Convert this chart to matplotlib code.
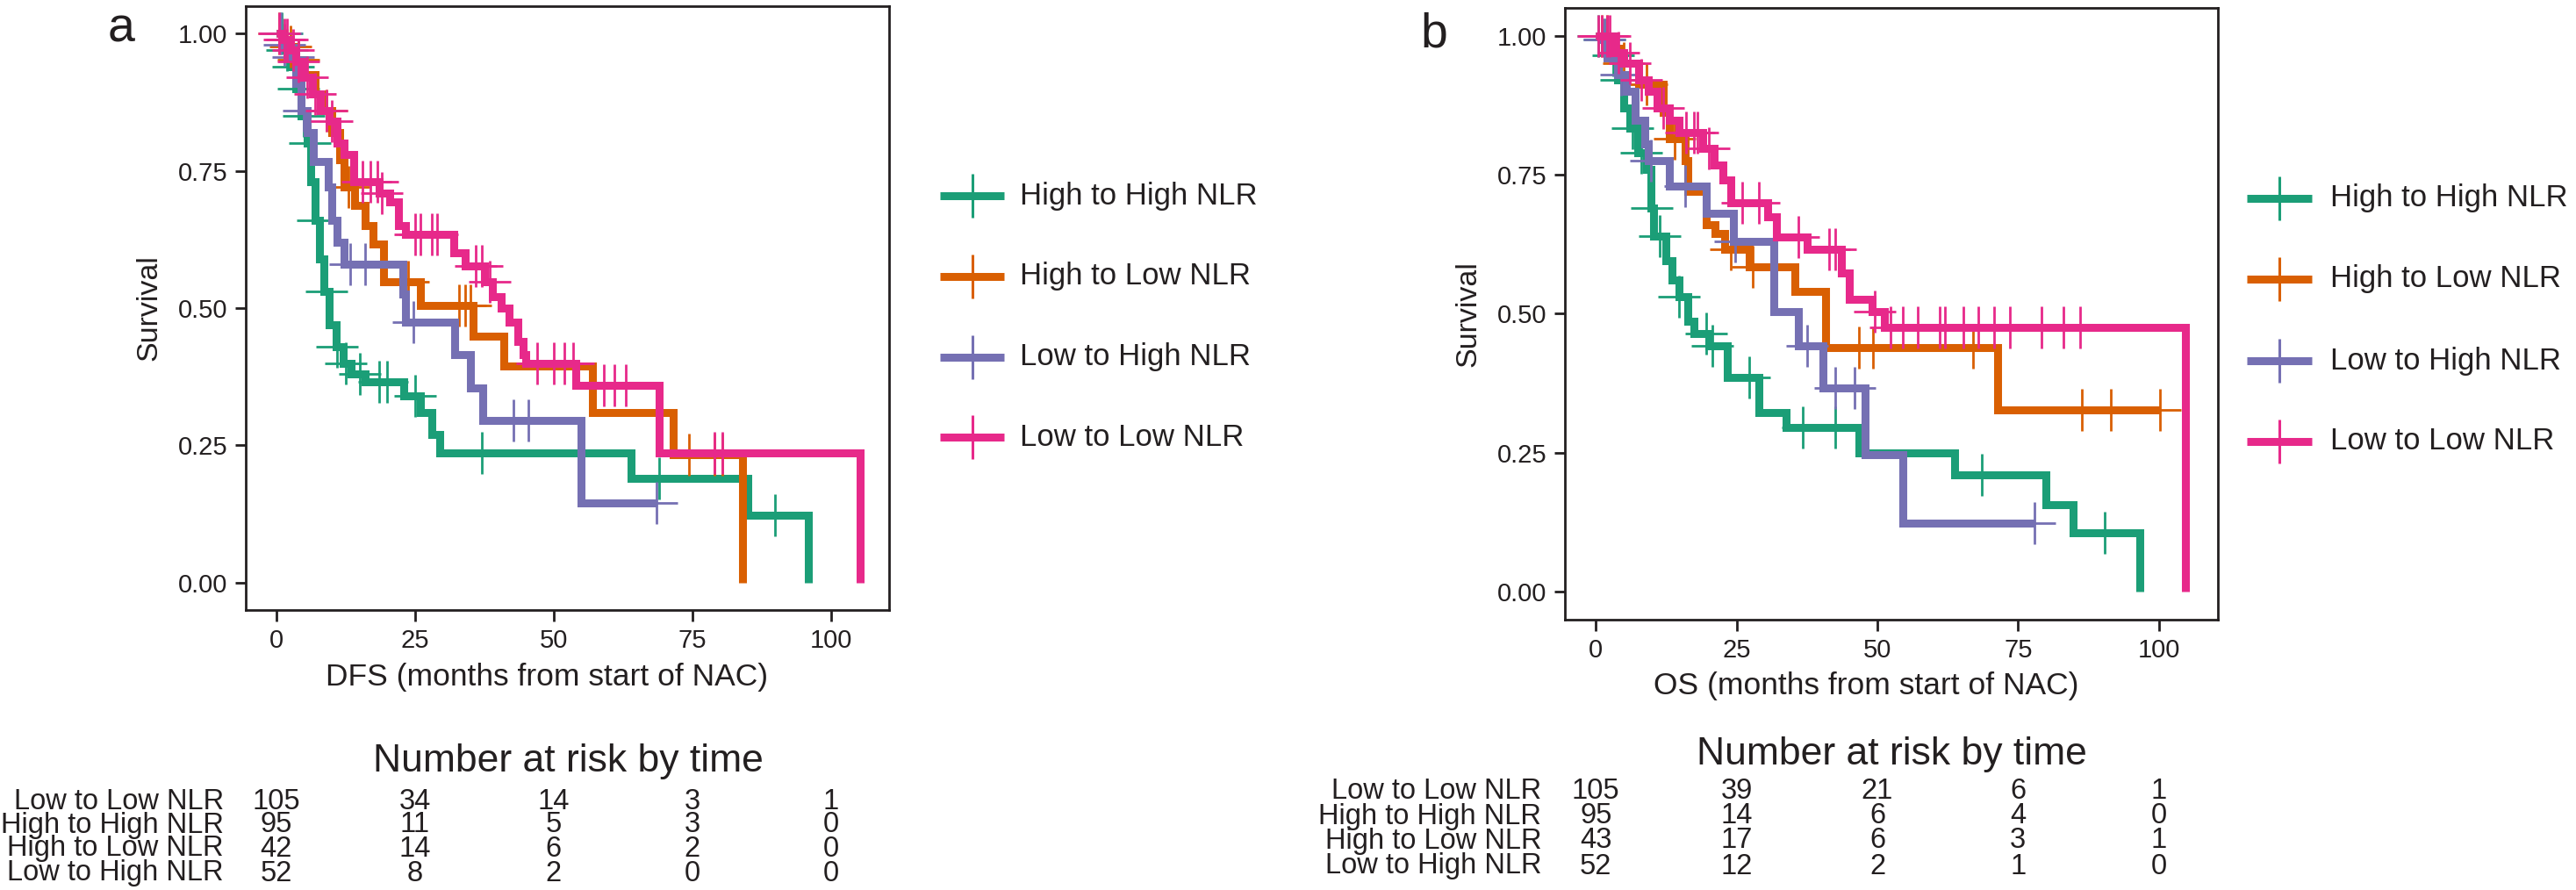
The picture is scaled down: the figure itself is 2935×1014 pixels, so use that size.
import matplotlib
matplotlib.use("Agg")
import matplotlib.pyplot as plt
from matplotlib.lines import Line2D
from matplotlib.transforms import blended_transform_factory
import numpy as np

plt.rcParams['font.family'] = ['Liberation Sans', 'DejaVu Sans']

W, H = 2935, 1014
groups = ["High to High NLR", "High to Low NLR", "Low to High NLR", "Low to Low NLR"]
colors = ["#1B9E77", "#D95F02", "#7570B3", "#E7298A"]
ink = "#231f20"

# ---- panel a (DFS): step times / survival after step, censor times ----
a_t = [
    [0, 1.5, 2.5, 3.5, 4.5, 5.5, 6.2, 7.0, 7.8, 8.6, 9.6, 10.8, 12.0, 13.5, 16.0, 23.0, 26.0, 28.0, 29.4, 64.0, 85.0, 96.0],
    [0, 1.5, 3.0, 5.0, 7.0, 8.5, 10.0, 11.5, 12.2, 14.2, 16.0, 17.4, 19.4, 26.0, 35.5, 41.0, 57.0, 71.6, 84.0],
    [0, 1.0, 2.0, 3.5, 4.5, 5.5, 6.7, 9.4, 10.0, 11.0, 12.2, 22.8, 23.3, 32.2, 35.0, 37.2, 55.0, 68.5],
    [0, 1.0, 2.5, 3.5, 5.0, 6.5, 8.0, 9.5, 11.0, 12.2, 14.0, 18.5, 20.5, 22.0, 23.3, 32.0, 34.0, 37.5, 39.0,
     40.5, 42.0, 43.5, 44.5, 45.0, 54.0, 69.0, 105.3],
]
a_s = [
    [1.0, 0.97, 0.94, 0.90, 0.85, 0.80, 0.73, 0.66, 0.59, 0.53, 0.47, 0.43, 0.40, 0.38, 0.365, 0.34, 0.31, 0.27, 0.236, 0.19, 0.123, 0.0],
    [1.0, 0.976, 0.952, 0.925, 0.89, 0.86, 0.82, 0.77, 0.72, 0.687, 0.65, 0.617, 0.548, 0.504, 0.449, 0.394, 0.31, 0.233, 0.0],
    [1.0, 0.98, 0.957, 0.91, 0.86, 0.82, 0.767, 0.72, 0.66, 0.62, 0.58, 0.525, 0.474, 0.416, 0.354, 0.295, 0.145, 0.145],
    [1.0, 0.99, 0.97, 0.95, 0.92, 0.89, 0.86, 0.84, 0.80, 0.78, 0.73, 0.71, 0.694, 0.65, 0.635, 0.60, 0.577, 0.548, 0.52,
     0.50, 0.474, 0.44, 0.416, 0.40, 0.36, 0.236, 0.0],
]
a_c = [
    [1.0, 2.0, 3.0, 4.0, 5.0, 6.0, 7.5, 9.0, 11.0, 12.5, 15.0, 18.5, 20.0, 25.0, 37.0, 69.0, 90.0],
    [0.5, 2.5, 4.0, 9.0, 13.0, 23.7, 33.0, 34.0, 35.0, 74.4, 79.0, 80.5],
    [0.8, 1.5, 3.0, 5.0, 13.3, 16.0, 24.8, 42.8, 45.5, 68.5],
    [0.5, 1.5, 2.0, 3.0, 4.0, 5.5, 7.0, 9.0, 10.0, 15.5, 17.0, 18.3, 19.0, 25.0, 26.0, 28.0, 29.0, 36.0, 37.0,
     38.5, 47.0, 50.0, 52.0, 53.5, 59.0, 61.0, 63.0, 79.0, 80.5],
]

# ---- panel b (OS) ----
b_t = [
    [0, 1.0, 2.0, 3.8, 5.0, 6.0, 7.5, 9.0, 9.8, 10.3, 12.5, 13.5, 14.7, 16.3, 17.4, 20.0, 23.4, 28.9, 33.8, 46.8,
     63.7, 80.0, 84.7, 96.7],
    [0, 3.0, 4.2, 7.6, 11.9, 13.1, 15.8, 16.3, 19.6, 21.2, 22.9, 27.2, 35.4, 40.8, 71.4, 100.2],
    [0, 1.0, 2.0, 3.8, 5.4, 7.0, 8.7, 9.3, 13.0, 19.6, 24.5, 31.6, 36.0, 40.3, 47.9, 54.5, 77.9],
    [0, 3.3, 5.0, 7.6, 9.3, 10.9, 13.1, 14.7, 19.0, 21.0, 22.5, 24.0, 30.5, 32.0, 37.6, 43.6, 45.0, 49.0, 51.2, 104.8],
]
b_s = [
    [1.0, 0.993, 0.964, 0.92, 0.87, 0.834, 0.79, 0.76, 0.69, 0.64, 0.595, 0.56, 0.53, 0.486, 0.465, 0.443, 0.385,
     0.323, 0.295, 0.25, 0.211, 0.157, 0.106, 0.0],
    [1.0, 0.977, 0.95, 0.913, 0.862, 0.815, 0.776, 0.72, 0.66, 0.645, 0.616, 0.584, 0.54, 0.44, 0.327, 0.327],
    [1.0, 0.993, 0.96, 0.93, 0.90, 0.848, 0.805, 0.776, 0.73, 0.68, 0.63, 0.504, 0.443, 0.367, 0.247, 0.124, 0.124],
    [1.0, 0.97, 0.95, 0.92, 0.90, 0.87, 0.848, 0.826, 0.797, 0.768, 0.74, 0.70, 0.674, 0.638, 0.616, 0.573, 0.526,
     0.504, 0.475, 0.0],
]
b_c = [
    [0.5, 1.5, 3.0, 4.5, 6.5, 8.0, 10.0, 11.4, 14.7, 19.6, 20.7, 27.2, 36.8, 42.5, 68.6, 90.4],
    [1.0, 2.0, 5.0, 9.0, 14.0, 24.0, 27.8, 46.8, 49.2, 67.0, 86.3, 91.5, 100.2],
    [1.5, 4.5, 9.8, 15.8, 24.7, 37.6, 42.5, 46.0, 77.9],
    [0.5, 1.0, 2.0, 2.5, 4.0, 6.0, 8.0, 12.0, 16.0, 17.4, 18.0, 20.0, 26.0, 28.9, 36.0, 41.4, 42.5, 49.6, 52.3,
     54.5, 57.2, 61.0, 62.0, 65.3, 68.0, 70.8, 73.5, 79.2, 83.1, 86.0],
]

# ---- number at risk tables ----
risk_rows = ["Low to Low NLR", "High to High NLR", "High to Low NLR", "Low to High NLR"]
risk_times = [0, 25, 50, 75, 100]
a_risk = [[105, 34, 14, 3, 1], [95, 11, 5, 3, 0], [42, 14, 6, 2, 0], [52, 8, 2, 0, 0]]
b_risk = [[105, 39, 21, 6, 1], [95, 14, 6, 4, 0], [43, 17, 6, 3, 1], [52, 12, 2, 1, 0]]


def fx(px):
    return px / W


def fy(py):
    return 1 - py / H


def km_panel(ax, times, survs, cens, xlabel):
    for t, s, c, col in zip(times, survs, cens, colors):
        t = np.array(t)
        s = np.array(s)
        ax.plot(t, s, drawstyle='steps-post', color=col, lw=6.5,
                solid_joinstyle='miter', solid_capstyle='butt')
        c = np.array(c)
        idx = np.searchsorted(t, c, side='right') - 1
        ax.plot(c, s[idx], ls='none', marker='+', ms=34, mew=2.0, color=col)
    ax.set_xlim(-5.5, 110.5)
    ax.set_ylim(-0.05, 1.05)
    ax.set_xticks([0, 25, 50, 75, 100])
    ax.set_yticks([0, 0.25, 0.5, 0.75, 1.0])
    ax.set_yticklabels(["0.00", "0.25", "0.50", "0.75", "1.00"])
    ax.tick_params(labelsize=21, width=2, length=9, color=ink, labelcolor=ink, pad=6)
    ax.set_ylabel("Survival", fontsize=24.5, color=ink, labelpad=12)
    for sp in ax.spines.values():
        sp.set_linewidth(2)
        sp.set_color(ink)


def legend_block(x0, x1, xt, rows):
    for name, col, y in zip(groups, colors, rows):
        fig.add_artist(Line2D([fx(x0), fx(x1)], [fy(y), fy(y)], color=col, lw=6.5,
                              solid_capstyle='butt'))
        fig.add_artist(Line2D([fx((x0 + x1) / 2)], [fy(y)], marker='+', ms=36, mew=2.2,
                              color=col, ls='none'))
        fig.text(fx(xt), fy(y), name, fontsize=25, color=ink, va='center', ha='left')


def risk_table(ax, counts, label_right, rows, title_x, title_y):
    tr = blended_transform_factory(ax.transData, fig.transFigure)
    fig.text(fx(title_x), fy(title_y), "Number at risk by time", fontsize=32,
             color=ink, ha='center', va='center')
    for name, vals, y in zip(risk_rows, counts, rows):
        fig.text(fx(label_right), fy(y), name, fontsize=23.5, color=ink, ha='right', va='center')
        for tt, v in zip(risk_times, vals):
            ax.text(tt, fy(y), str(v), transform=tr, fontsize=23.5, color=ink,
                    ha='center', va='center', clip_on=False)


fig = plt.figure(figsize=(W / 100, H / 100), dpi=100)

ax1 = fig.add_axes([fx(280), fy(695), fx(1013 - 280), (695 - 7) / H])
km_panel(ax1, a_t, a_s, a_c, "DFS")
fig.text(fx(623), fy(771), "DFS (months from start of NAC)", fontsize=25.5,
         color=ink, ha='center', va='center')
fig.text(fx(138), fy(33), "a", fontsize=40, color=ink, ha='center', va='center')
legend_block(1071, 1144, 1162, [223, 315, 407, 498])
risk_table(ax1, a_risk, 255, [913, 940, 967, 995], 647, 867)

ax2 = fig.add_axes([fx(1783), fy(706), fx(2527 - 1783), (706 - 9) / H])
km_panel(ax2, b_t, b_s, b_c, "OS")
fig.text(fx(2126), fy(782), "OS (months from start of NAC)", fontsize=25.5,
         color=ink, ha='center', va='center')
fig.text(fx(1634), fy(40), "b", fontsize=40, color=ink, ha='center', va='center')
legend_block(2560, 2634, 2655, [226, 318, 411, 503])
risk_table(ax2, b_risk, 1756, [902, 930, 958, 987], 2155, 859)

plt.savefig("out.png", dpi=100)
